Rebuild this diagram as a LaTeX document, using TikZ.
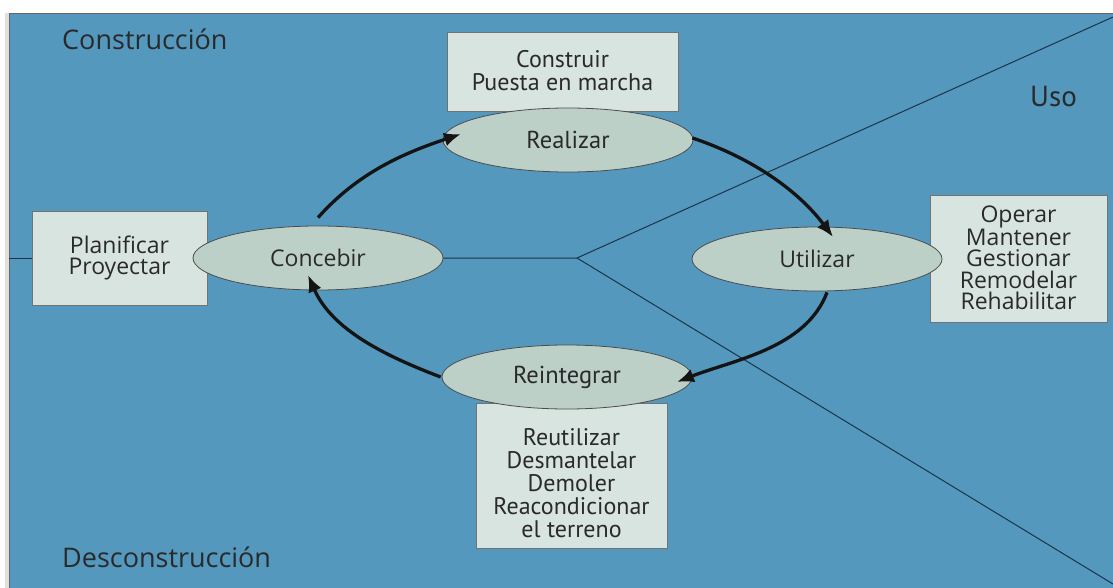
\documentclass[tikz,border=0pt]{standalone}
\usepackage{fontspec}
\setmainfont{Open Sans}
\newfontfamily\condfont{PT Sans}
\usetikzlibrary{arrows.meta,shapes.geometric,calc}
\definecolor{bg}{RGB}{84,152,190}
\definecolor{boxfill}{RGB}{216,228,224}
\definecolor{ellfill}{RGB}{188,208,200}
\definecolor{txt}{RGB}{42,42,42}
\definecolor{linec}{RGB}{28,52,72}
\begin{document}
\begin{tikzpicture}[x=1pt,y=-1pt,
  box/.style={draw=black!55, fill=boxfill, line width=1pt, inner sep=0pt},
  ell/.style={ellipse, draw=black!70, fill=ellfill, line width=0.8pt,
    minimum width=250pt, minimum height=64pt, inner sep=0pt, text=txt,
    font=\fontsize{23}{22}\selectfont},
  lbl/.style={text=txt, align=center, inner sep=0pt, font=\fontsize{23}{21.5}\selectfont},
  clbl/.style={text=txt, align=center, inner sep=0pt, font=\condfont\fontsize{24}{23.5}\selectfont},
  zone/.style={text=txt, inner sep=0pt, anchor=base west, font=\fontsize{27}{30}\selectfont},
  thinl/.style={draw=linec, line width=1pt},
  flow/.style={line width=3.3pt, draw=black!92, -{Latex[length=17pt,width=14pt]}}]
\useasboundingbox (0,0) rectangle (1113,588);
% background
\fill[white] (0,0) rectangle (1113,588);
\fill[black!12] (5,13) rectangle (9,588);
\fill[bg] (9,13) rectangle (1113,588);
\draw[black!60, line width=1.6pt] (9.5,588) -- (9.5,13.5) -- (1113,13.5);

% nodes: boxes
\node[box, minimum width=175pt, minimum height=94pt] (pbox) at (119.5,258) {};
\node[box, minimum width=231pt, minimum height=79pt] (cbox) at (562.5,72.5) {};
\node[box, minimum width=177pt, minimum height=126pt] (obox) at (1018.5,259) {};
\node[box, minimum width=191pt, minimum height=145pt] (rbox) at (571.5,475.5) {};

% division lines
\coordinate (lft) at (9,258);
\coordinate (apex) at (577,258);
\coordinate (tr) at (1113,17);
\coordinate (br) at (1113,584);
\draw[thinl] (lft) -- (pbox.west);
\draw[thinl] (318,258) -- (apex) -- (tr);
\draw[thinl] (apex) -- (br);

% ellipses
\node[ell] (conc) at (318,258) {Concebir};
\node[ell, font=\condfont\fontsize{24.5}{22}\selectfont] (real) at (568,140) {Realizar};
\node[ell] (util) at (817,259) {Utilizar};
\node[ell, font=\condfont\fontsize{24.5}{22}\selectfont] (rein) at (567,377) {Reintegrar};

% box texts
\node[lbl] (ptxt) at (pbox.center) {Planificar\\Proyectar};
\node[clbl] (ctxt) at ($(cbox.center)+(0,-2)$) {Construir\\Puesta en marcha};
\node[lbl] (otxt) at ($(obox.center)+(0,-1)$) {Operar\\Mantener\\Gestionar\\Remodelar\\Rehabilitar};
\node[clbl, font=\condfont\fontsize{24}{23}\selectfont] (rtxt) at ($(rbox.center)+(0,8)$) {Reutilizar\\Desmantelar\\Demoler\\Reacondicionar\\el terreno};

% zone labels
\node[zone] (zc) at (62,50) {Construcci\'on};
\node[zone] (zd) at (62,567) {Desconstrucci\'on};
\node[zone, font=\condfont\fontsize{29}{30}\selectfont] (zu) at (1030,107) {Uso};

% cycle arrows
\draw[flow] ($(conc.north)+(0,-8)$) .. controls ($(conc.north)+(40,-53)$) and ($(real.center)+(-164,13)$) .. ($(real.center)+(-107,-6)$);
\draw[flow] ($(real.east)+(-1,-2)$) .. controls ($(real.east)+(56,17)$) and ($(util.center)+(-20,-70)$) .. ($(util.center)+(16,-22)$);
\draw[flow] ($(util.south)+(10,1)$) .. controls ($(util.south)+(-11,57)$) and ($(rein.center)+(166,-17)$) .. ($(rein.center)+(110,5)$);
\draw[flow] ($(rein.west)+(-1,0)$) .. controls ($(rein.west)+(-56,-21)$) and ($(conc.center)+(14,72)$) .. ($(conc.center)+(-10,17)$);
\end{tikzpicture}
\end{document}
